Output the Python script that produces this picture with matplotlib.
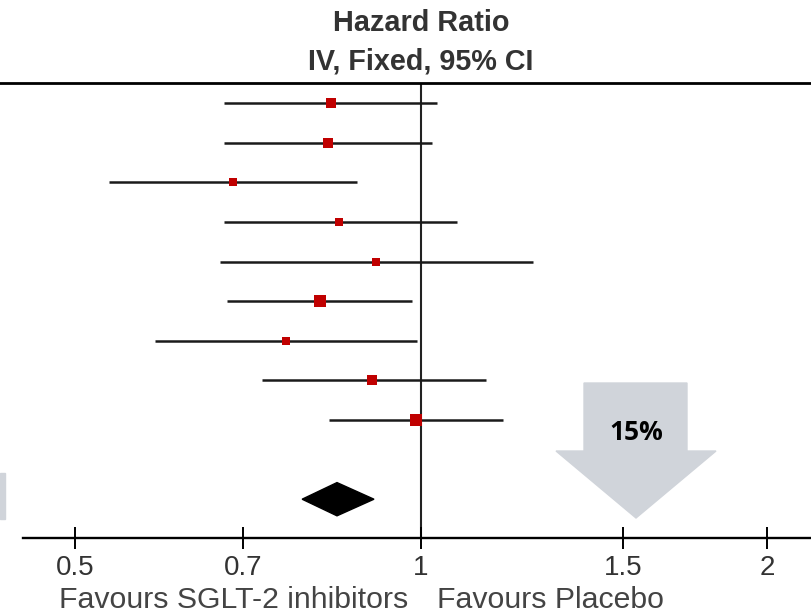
import numpy as np
import matplotlib
matplotlib.use("Agg")
import matplotlib.pyplot as plt
from matplotlib.patches import Polygon, Rectangle

# hazard ratios with 95% CI for each trial, plus the pooled estimate
hr = [0.835, 0.830, 0.686, 0.849, 0.914, 0.816, 0.763, 0.907, 0.989]
ci_low = [0.674, 0.674, 0.535, 0.674, 0.668, 0.678, 0.587, 0.727, 0.831]
ci_high = [1.032, 1.022, 0.880, 1.074, 1.252, 0.982, 0.992, 1.139, 1.179]
weight = [12.3, 12.3, 6.0, 7.9, 6.0, 17.7, 7.9, 12.3, 17.7]
pooled = [0.845, 0.788, 0.910]   # estimate, low, high
ticks = [0.5, 0.7, 1, 1.5, 2]
tick_labels = ['0.5', '0.7', '1', '1.5', '2']

W, H = 811, 613
fig = plt.figure(figsize=(W / 100, H / 100), dpi=100)
fig.patch.set_facecolor('white')

top_px, axis_px = 83, 538
ax = fig.add_axes([0, (H - axis_px) / H, 1, (axis_px - top_px) / H])
ax.set_xscale('log')
ax.set_xlim(0.4302, 2.184)
ax.set_ylim(10.98, -0.513)

rows = np.arange(len(hr))
ax.hlines(rows, ci_low, ci_high, color='#1a1a1a', lw=1.8, zorder=2)
for y, est, w in zip(rows, hr, weight):
    ax.plot(est, y, 's', color='#c00000', ms=3.0 * np.sqrt(w) * 0.72,
            mew=0, zorder=3)

# pooled diamond
dy = 0.42
est, lo, hi = pooled
ax.add_patch(Polygon([[lo, 10], [est, 10 - dy], [hi, 10], [est, 10 + dy]],
                     closed=True, color='black', zorder=3))

ax.axvline(1, color='#222222', lw=1.5, zorder=1)

for s in ['left', 'right']:
    ax.spines[s].set_visible(False)
ax.spines['top'].set_linewidth(2)
ax.spines['bottom'].set_linewidth(1.7)
ax.spines['bottom'].set_bounds(0.4506, 2.184)
ax.set_yticks([])
ax.set_xticks(ticks)
ax.set_xticklabels(tick_labels)
ax.minorticks_off()
ax.tick_params(axis='x', direction='inout', length=16, width=1.4,
               pad=4, labelsize=20, labelcolor='#333333')
fam = ['Liberation Sans', 'DejaVu Sans']
for lab in ax.get_xticklabels():
    lab.set_fontfamily(fam)

fig.text(421 / W, 1 - 23 / H, 'Hazard Ratio', ha='center', va='center',
         fontsize=20.8, fontweight='bold', color='#333333', family=fam)
fig.text(421 / W, 1 - 62 / H, 'IV, Fixed, 95% CI', ha='center', va='center',
         fontsize=20.7, fontweight='bold', color='#333333', family=fam)
fig.text(408 / W, 1 - 600 / H, 'Favours SGLT-2 inhibitors', ha='right',
         va='center', fontsize=21.8, color='#444444', family=fam)
fig.text(437 / W, 1 - 600 / H, 'Favours Placebo', ha='left',
         va='center', fontsize=21.8, color='#444444', family=fam)

# grey down arrow with the risk reduction
arrow_px = [(584, 383), (687, 383), (687, 451), (716, 451), (636, 518),
            (556, 451), (584, 451)]
fig.patches.append(Polygon([(x / W, 1 - y / H) for x, y in arrow_px],
                           closed=True, color='#d0d4da',
                           transform=fig.transFigure, zorder=0))
fig.text(636 / W, 1 - 432 / H, '15%', ha='center', va='center',
         fontsize=19, fontweight='bold', color='black',
         family=['Open Sans', 'DejaVu Sans'])

fig.patches.append(Rectangle((0, 1 - 519 / H), 5 / W, 46 / H,
                             color='#d0d4da', transform=fig.transFigure,
                             zorder=0))

fig.savefig('out.png', dpi=100)
